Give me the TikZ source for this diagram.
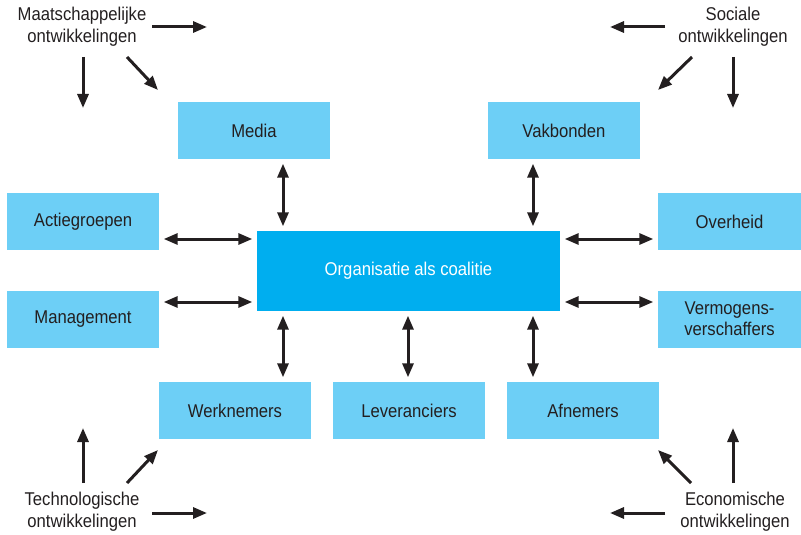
\documentclass[tikz,border=0pt]{standalone}
\usepackage{fontspec}
\setmainfont[FakeStretch=0.9]{Liberation Sans}
\usepackage{xcolor}
\usepackage{tikz}
\usetikzlibrary{arrows.meta,positioning,calc}
\definecolor{coalPartyFill}{RGB}{109,207,246}
\definecolor{coalCoreFill}{RGB}{0,174,239}
\definecolor{coalInk}{RGB}{35,31,32}
\tikzset{
  partybox/.style={rectangle, fill=coalPartyFill, minimum width=152pt, minimum height=57pt,
    inner sep=2pt, align=center, text=coalInk, font=\fontsize{18.5}{21}\selectfont},
  corebox/.style={rectangle, fill=coalCoreFill, minimum width=303pt, minimum height=80pt,
    inner sep=2pt, align=center, text=white, font=\fontsize{18.5}{21}\selectfont},
  trendlabel/.style={align=center, text=coalInk, inner sep=1pt, font=\fontsize{18.5}{22}\selectfont},
  linkarrow/.style={{Triangle[length=14pt,width=11pt]}-{Triangle[length=14pt,width=11pt]},
    draw=coalInk, line width=3pt, shorten <=4.5pt, shorten >=4.5pt},
  trendarrow/.style={-{Triangle[length=14pt,width=11pt]}, draw=coalInk, line width=3pt},
}
\begin{document}
\begin{tikzpicture}[x=1pt,y=-1pt]
  \useasboundingbox (0,0) rectangle (801,535);

  % --- organisation and parties ---
  \node[corebox] (core) at (408.5,271) {Organisatie als coalitie};
  \node[partybox] (media) at (254,130.5) {Media};
  \node[partybox] (unions) at (564,130.5) {Vakbonden};
  \node[partybox] (action) at (83,221.5) {Actiegroepen};
  \node[partybox] (mgmt) at (83,319) {Management};
  \node[partybox, minimum width=143pt] (govt) at (729.5,221.5) {Overheid};
  \node[partybox, minimum width=143pt] (capital) at (729.5,319) {Vermogens-\\verschaffers};
  \node[partybox] (staff) at (235,410.5) {Werknemers};
  \node[partybox] (suppl) at (409,410.5) {Leveranciers};
  \node[partybox] (buyers) at (583,410.5) {Afnemers};

  % --- developments in the corners ---
  \node[trendlabel] (soc1) at (82,27) {Maatschappelijke\\ontwikkelingen};
  \node[trendlabel] (soc2) at (733,27) {Sociale\\ontwikkelingen};
  \node[trendlabel] (tech) at (82,512) {Technologische\\ontwikkelingen};
  \node[trendlabel] (econ) at (735,512) {Economische\\ontwikkelingen};

  \coordinate (soc1r) at (207,27);
  \coordinate (soc1d) at (83,108);
  \coordinate (soc1m) at (158,90);
  \coordinate (soc2l) at (610,27);
  \coordinate (soc2d) at (733,108);
  \coordinate (soc2m) at (658,90);
  \coordinate (techu) at (83,428);
  \coordinate (techm) at (158,450);
  \coordinate (techr) at (207,513);
  \coordinate (econu) at (733,428);
  \coordinate (econm) at (658,450);
  \coordinate (econl) at (610,513);

  % --- exchanges with the coalition ---
  \draw[linkarrow] ([xshift=29pt]media.south) -- ([xshift=29pt]media.south |- core.north);
  \draw[linkarrow] ([xshift=-31pt]unions.south) -- ([xshift=-31pt]unions.south |- core.north);
  \draw[linkarrow] ([yshift=-17.5pt]action.east) -- ([yshift=-17.5pt]action.east -| core.west);
  \draw[linkarrow] ([yshift=17pt]mgmt.east) -- ([yshift=17pt]mgmt.east -| core.west);
  \draw[linkarrow] ([yshift=-17.5pt]govt.west -| core.east) -- ([yshift=-17.5pt]govt.west);
  \draw[linkarrow] ([yshift=17pt]capital.west -| core.east) -- ([yshift=17pt]capital.west);
  \draw[linkarrow] ([xshift=48pt]staff.north |- core.south) -- ([xshift=48pt]staff.north);
  \draw[linkarrow] ([xshift=-1pt]suppl.north |- core.south) -- ([xshift=-1pt]suppl.north);
  \draw[linkarrow] ([xshift=-50pt]buyers.north |- core.south) -- ([xshift=-50pt]buyers.north);

  % --- influence of developments ---
  \draw[trendarrow] (152,27) -- (soc1r);
  \draw[trendarrow] (83,57) -- (soc1d);
  \draw[trendarrow] (127,57) -- (soc1m);
  \draw[trendarrow] (665,27) -- (soc2l);
  \draw[trendarrow] (733,57) -- (soc2d);
  \draw[trendarrow] (692,57) -- (soc2m);
  \draw[trendarrow] (83,483) -- (techu);
  \draw[trendarrow] (127,483) -- (techm);
  \draw[trendarrow] (152,513) -- (techr);
  \draw[trendarrow] (733,483) -- (econu);
  \draw[trendarrow] (691,483) -- (econm);
  \draw[trendarrow] (665,513) -- (econl);
\end{tikzpicture}
\end{document}
